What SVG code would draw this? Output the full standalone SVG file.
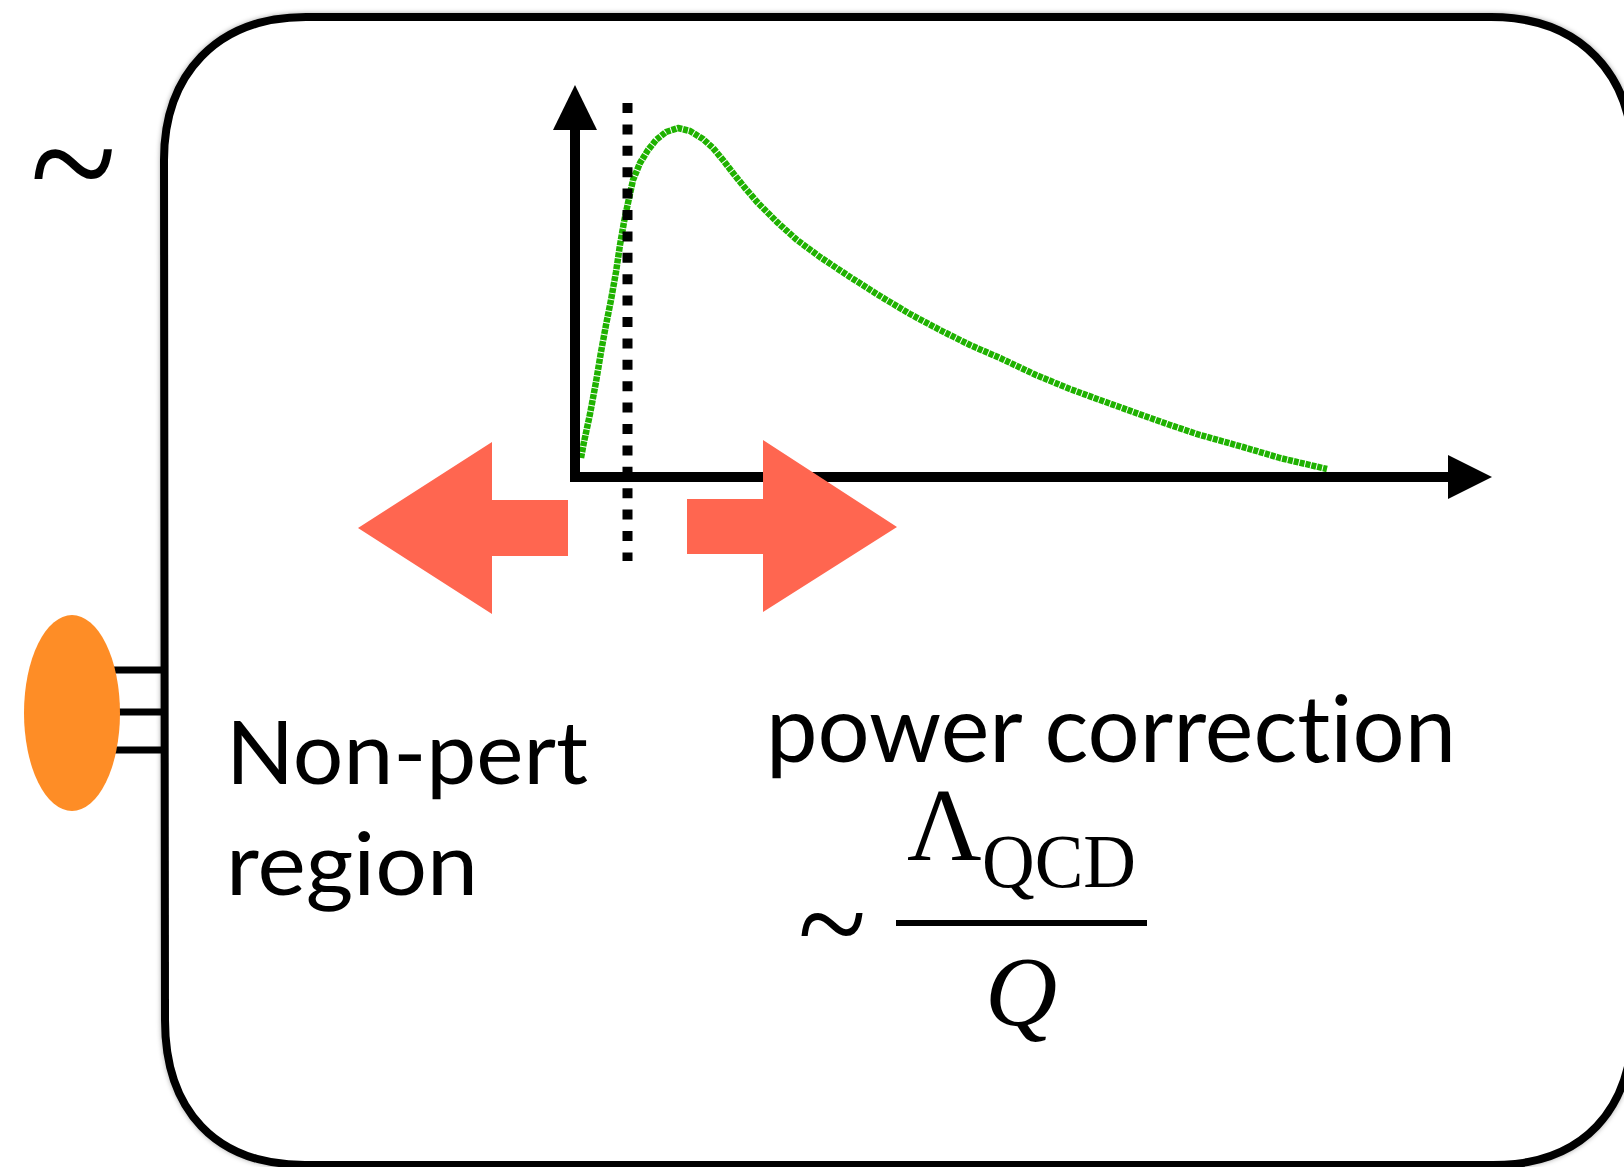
<svg xmlns="http://www.w3.org/2000/svg" width="1624" height="1167" viewBox="0 0 1624 1167">
<style>
.frame{fill:#fff;stroke:#000;stroke-width:8}
.ax{stroke:#000;stroke-width:10;fill:none}
.red{fill:#FF6650}
.sans{font-family:Lato,"Open Sans","Noto Sans",sans-serif;fill:#000;font-variant-ligatures:none}
.serif{font-family:"Liberation Serif","Times New Roman",serif;fill:#000}
</style>
<defs>
<filter id="sh" x="-5%" y="-5%" width="110%" height="110%">
<feDropShadow dx="0" dy="0" stdDeviation="2.5" flood-color="#000" flood-opacity="0.35"/>
</filter>
</defs>
<rect width="1624" height="1167" fill="#fff"/>
<text class="serif" x="0" y="0" font-size="160" transform="translate(30,222) scale(1,1.1)">~</text>
<g id="box">
<path class="frame" filter="url(#sh)" d="M164 160 C164 75 216 17 306 17 L1491 17 C1581 17 1633 75 1633 160 L1633 1020 C1633 1110 1583 1165 1493 1165 L305 1165 C215 1165 165 1110 165 1020 Z"/>
</g>
<g id="hadron">
<g stroke="#000" stroke-width="7">
<line x1="100" y1="670" x2="164" y2="670"/>
<line x1="100" y1="712" x2="164" y2="712"/>
<line x1="100" y1="750" x2="164" y2="750"/>
</g>
<ellipse cx="72" cy="713" rx="48" ry="98" fill="#FE8D26"/>
</g>
<g id="plot">
<polyline fill="none" stroke="#1FB200" stroke-width="6.5" stroke-dasharray="5 1" stroke-linejoin="round" points="581,458 584,442 587,428 590,414 593,398 596,382 601,352 606,325 611,300 616,272 620,245 624,222 628,203 633,180 640,163 648,150 656,140 666,132 678,128 690,131 703,139 713,148 723,160 733,173 745,188 758,203 777,222 797,240 820,257 850,277 880,296 910,314 940,330 970,345 1000,358 1036,375 1070,389 1100,400 1139,414 1170,425 1200,435 1243,447 1280,458 1327,469"/>
<line class="ax" x1="575" y1="125" x2="575" y2="482"/>
<polygon points="575,85 597,130 553,130" fill="#000"/>
<line class="ax" x1="570" y1="477" x2="1452" y2="477"/>
<polygon points="1492,477 1448,455 1448,499" fill="#000"/>
<line x1="627.5" y1="103" x2="627.5" y2="561" stroke="#000" stroke-width="10" stroke-dasharray="10 11.4"/>
</g>
<g id="arrows">
<polygon class="red" points="358,528 492,442 492,500 568,500 568,556 492,556 492,614"/>
<polygon class="red" points="897,527 763,440 763,499 687,499 687,554 763,554 763,612"/>
</g>
<g id="labels">
<text class="sans" x="226" y="784" font-size="88" textLength="362" lengthAdjust="spacingAndGlyphs">Non-pert</text>
<text class="sans" x="226" y="895" font-size="88" textLength="252" lengthAdjust="spacingAndGlyphs">region</text>
<text class="sans" x="766" y="762" font-size="93" textLength="690" lengthAdjust="spacingAndGlyphs">power correction</text>
</g>
<g id="formula">
<text class="serif" x="0" y="0" font-size="126" transform="translate(798,970) scale(1,1.1)">~</text>
<text class="serif" x="907" y="860" font-size="103">Λ</text>
<text class="serif" x="982" y="887" font-size="76" textLength="154" lengthAdjust="spacingAndGlyphs">QCD</text>
<rect x="896" y="920" width="251" height="6" fill="#000"/>
<text class="serif" x="985" y="1025" font-size="100" font-style="italic">Q</text>
</g>
</svg>
